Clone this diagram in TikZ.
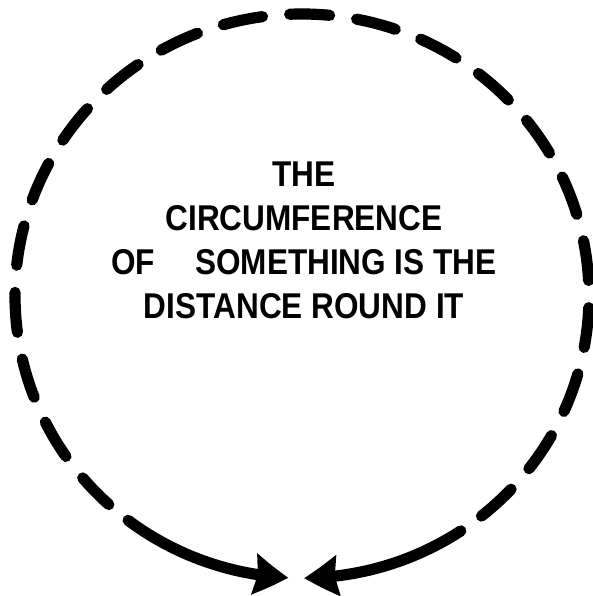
\documentclass[tikz,border=0pt]{standalone}
\usepackage{fontspec}
\setmainfont{Liberation Sans}[FakeStretch=0.88]
\usetikzlibrary{arrows.meta,bending}

\begin{document}
\begin{tikzpicture}[x=0.25mm, y=0.25mm, line width=2.8mm,
  roundline/.style={line cap=round},
  dashring/.style={roundline, dash pattern=on 10mm off 6.82mm},
  arrowarc/.style={roundline, -{Stealth[length=8.5mm, width=10mm, inset=0.8mm, bend]}}]
\useasboundingbox (0,0) rectangle (592,596);
\coordinate (centre) at (302,300);
\draw[dashring] (centre) ++(-51.3:287 and 282) arc[start angle=-51.3, end angle=227.7, x radius=287, y radius=282];
\draw[arrowarc] (centre) ++(232.7:287 and 282) arc[start angle=232.7, end angle=267.3, x radius=287, y radius=282];
\draw[arrowarc] (centre) ++(303.6:287 and 282) arc[start angle=303.6, end angle=270.4, x radius=287, y radius=282];
\node (words) [align=center, inner sep=0pt, font=\fontsize{25.5}{31.2}\selectfont\bfseries] at (304,355.5)
  {THE\\CIRCUMFERENCE\\OF\hspace{10mm}SOMETHING IS THE\\DISTANCE ROUND IT};
\end{tikzpicture}
\end{document}
